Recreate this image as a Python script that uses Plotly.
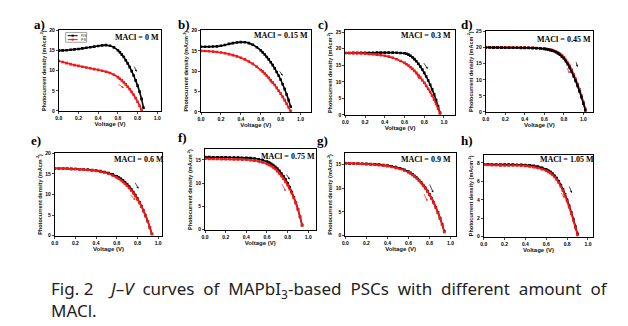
import plotly.graph_objects as go

W, H = 628, 326

# ---------------- data ----------------
V = [0.00, 0.04, 0.08, 0.12, 0.16, 0.20, 0.24, 0.28, 0.32, 0.36, 0.40, 0.44, 0.48, 0.52, 0.56, 0.60,
     0.62, 0.64, 0.66, 0.68, 0.70, 0.72, 0.74, 0.76, 0.78, 0.80, 0.82, 0.84, 0.86, 0.88, 0.90,
     0.92, 0.94, 0.96, 0.98, 1.00, 1.02, 1.04]

J_a_RS = [15.0, 15.05, 15.1, 15.2, 15.3, 15.4, 15.55, 15.7, 15.85, 16.0, 16.15, 16.3, 16.35, 16.2, 15.8, 15.1,
          14.6, 14.0, 13.4, 12.6, 11.8, 10.9, 9.9, 8.8, 7.6, 6.3, 4.8, 3.0, 0.8]
J_a_FS = [12.4, 12.15, 11.9, 11.65, 11.4, 11.2, 11.0, 10.8, 10.6, 10.4, 10.2, 10.0, 9.75, 9.45, 9.0, 8.4,
          8.0, 7.6, 7.1, 6.6, 6.0, 5.4, 4.7, 4.0, 3.2, 2.3, 1.3, 0.2]

J_b_RS = [16.0, 16.0, 16.0, 16.05, 16.1, 16.25, 16.45, 16.7, 16.9, 17.05, 17.15, 17.1, 16.9, 16.5, 15.9, 15.1,
          14.6, 14.1, 13.5, 12.9, 12.2, 11.5, 10.7, 9.8, 8.9, 7.9, 6.8, 5.6, 4.3, 2.9, 1.3]
J_b_FS = [15.0, 14.95, 14.9, 14.8, 14.7, 14.6, 14.4, 14.2, 13.95, 13.65, 13.3, 12.9, 12.4, 11.8, 11.1, 10.3,
          9.9, 9.4, 8.9, 8.4, 7.8, 7.2, 6.6, 5.9, 5.2, 4.5, 3.7, 2.9, 2.0, 1.1, 0.2]

J_c_RS = [18.7, 18.72, 18.74, 18.75, 18.76, 18.77, 18.78, 18.79, 18.8, 18.8, 18.8, 18.8, 18.8, 18.78, 18.72, 18.6,
          18.45, 18.2, 17.85, 17.4, 16.85, 16.2, 15.45, 14.6, 13.7, 12.7, 11.6, 10.4, 9.1, 7.7, 6.2, 4.5, 2.6, 0.6]
J_c_FS = [18.7, 18.68, 18.65, 18.6, 18.55, 18.5, 18.4, 18.3, 18.2, 18.05, 17.85, 17.6, 17.25, 16.8, 16.3, 15.7,
          15.3, 14.9, 14.4, 13.9, 13.3, 12.7, 12.0, 11.3, 10.5, 9.7, 8.8, 7.9, 6.9, 5.8, 4.6, 3.3, 1.9, 0.4]

J_d_RS = [20.0, 20.0, 19.99, 19.98, 19.97, 19.96, 19.95, 19.94, 19.93, 19.92, 19.9, 19.87, 19.83, 19.78, 19.7, 19.6,
          19.5, 19.38, 19.22, 19.05, 18.85, 18.55, 18.2, 17.75, 17.2, 16.6, 15.75, 14.8, 13.7, 12.45, 11.1,
          9.65, 8.1, 6.4, 4.6, 2.6, 0.5]
J_d_FS = [20.1, 20.1, 20.09, 20.08, 20.07, 20.06, 20.05, 20.04, 20.03, 20.02, 20.0, 19.97, 19.93, 19.88, 19.8, 19.7,
          19.6, 19.5, 19.35, 19.2, 19.0, 18.75, 18.45, 18.05, 17.6, 17.0, 16.2, 15.3, 14.3, 13.1, 11.8,
          10.3, 8.7, 7.0, 5.1, 3.1, 1.0]

J_e_RS = [16.3, 16.3, 16.28, 16.25, 16.2, 16.15, 16.1, 16.05, 16.0, 15.9, 15.8, 15.65, 15.45, 15.2, 14.85, 14.4,
          14.1, 13.8, 13.4, 12.95, 12.45, 11.9, 11.3, 10.6, 9.85, 9.0, 8.1, 7.1, 6.0, 4.8, 3.5, 2.0, 0.4]
J_e_FS = [16.35, 16.33, 16.3, 16.25, 16.2, 16.15, 16.08, 16.0, 15.92, 15.82, 15.7, 15.52, 15.3, 15.0, 14.6, 14.1,
          13.8, 13.45, 13.05, 12.6, 12.1, 11.55, 10.95, 10.3, 9.6, 8.8, 7.95, 7.0, 5.95, 4.8, 3.5, 2.0, 0.4]

J_f_RS = [15.6, 15.6, 15.58, 15.57, 15.56, 15.55, 15.54, 15.52, 15.5, 15.48, 15.45, 15.4, 15.3, 15.15, 14.95, 14.65,
          14.45, 14.2, 13.9, 13.55, 13.15, 12.65, 12.1, 11.5, 10.8, 10.0, 9.1, 8.1, 7.0, 5.8, 4.4, 2.8, 1.0]
J_f_FS = [15.25, 15.24, 15.22, 15.2, 15.18, 15.16, 15.14, 15.12, 15.1, 15.08, 15.05, 14.95, 14.85, 14.7, 14.45, 14.15,
          13.95, 13.7, 13.4, 13.05, 12.6, 12.1, 11.55, 10.95, 10.3, 9.55, 8.75, 7.85, 6.85, 5.7, 4.35, 2.8, 1.0]

J_g_RS = [15.25, 15.25, 15.22, 15.2, 15.18, 15.15, 15.1, 15.05, 15.0, 14.9, 14.8, 14.65, 14.45, 14.2, 13.9, 13.5,
          13.25, 12.95, 12.6, 12.2, 11.75, 11.25, 10.7, 10.1, 9.4, 8.7, 7.9, 7.0, 6.0, 4.9, 3.7, 2.4, 0.9]
J_g_FS = [15.3, 15.28, 15.25, 15.2, 15.15, 15.1, 15.03, 14.96, 14.88, 14.78, 14.66, 14.5, 14.3, 14.05, 13.75, 13.35,
          13.1, 12.8, 12.45, 12.05, 11.6, 11.1, 10.55, 9.95, 9.3, 8.6, 7.8, 6.9, 5.9, 4.8, 3.6, 2.3, 0.8]

J_h_RS = [7.85, 7.85, 7.84, 7.84, 7.83, 7.83, 7.82, 7.82, 7.81, 7.8, 7.78, 7.75, 7.7, 7.6, 7.48, 7.3,
          7.18, 7.03, 6.85, 6.62, 6.35, 6.0, 5.6, 5.15, 4.6, 4.0, 3.35, 2.65, 1.9, 1.1, 0.3]
J_h_FS = [7.8, 7.78, 7.76, 7.75, 7.74, 7.73, 7.73, 7.72, 7.72, 7.7, 7.68, 7.62, 7.55, 7.45, 7.32, 7.15,
          7.03, 6.88, 6.7, 6.48, 6.2, 5.85, 5.45, 5.0, 4.45, 3.85, 3.2, 2.5, 1.75, 0.95, 0.15]

panel_labels = ["a)", "b)", "c)", "d)", "e)", "f)", "g)", "h)"]
macl_texts = ["MACl = 0 M", "MACl = 0.15 M", "MACl = 0.3 M", "MACl = 0.45 M",
              "MACl = 0.6 M", "MACl = 0.75 M", "MACl = 0.9 M", "MACl = 1.05 M"]
RS_series = [J_a_RS, J_b_RS, J_c_RS, J_d_RS, J_e_RS, J_f_RS, J_g_RS, J_h_RS]
FS_series = [J_a_FS, J_b_FS, J_c_FS, J_d_FS, J_e_FS, J_f_FS, J_g_FS, J_h_FS]
x_ranges = [[0, 1.04], [0, 1.1], [0, 1.11], [0, 1.1], [0, 1.04], [0, 1.07], [0, 1.05], [0, 1.05]]
y_ranges = [[0, 20], [0, 20], [0, 25.5], [0, 25], [0, 20], [0, 17.3], [0, 17.4], [0, 8.85]]
y_dticks = [5, 5, 5, 5, 5, 5, 5, 2]
# arrows (tail V, tail J, head V, head J): black (RS) then red (FS)
arrows_RS = [(0.76, 11.4, 0.79, 9.75), (0.78, 10.3, 0.82, 8.9), (0.785, 16.1, 0.835, 13.9), (0.92, 16.0, 0.94, 14.0),
             (0.77, 13.2, 0.81, 11.4), (0.78, 12.2, 0.82, 10.8), (0.795, 11.1, 0.835, 9.1), (0.815, 5.6, 0.845, 4.75)]
arrows_FS = [(0.59, 6.9, 0.66, 5.7), (0.66, 8.7, 0.71, 7.1), (0.71, 12.9, 0.75, 10.8), (0.825, 14.0, 0.86, 12.0),
             (0.72, 10.2, 0.78, 8.6), (0.74, 10.1, 0.78, 8.3), (0.74, 9.1, 0.78, 7.3), (0.735, 4.9, 0.775, 4.2)]

# ---------------- layout geometry (pixels) ----------------
boxes = [(56, 159, 28, 110), (199, 309, 28, 111), (344, 454, 28, 114), (485, 593, 29, 111),
         (52, 160, 153, 237), (203, 314, 149, 231), (344, 455, 153, 237), (483, 593, 155, 238)]
label_pos = [(37, 22), (182, 22), (322, 22), (466, 22), (33, 140), (180, 137), (321, 140), (466, 140)]
text_pos = [(135, 35), (279, 33), (425, 33), (564, 37), (137, 159), (286, 156), (425, 159), (567, 159)]


def px(x):
    return x / W


def py(y):
    return 1 - y / H


RED = "#f01818"
fig = go.Figure()
layout = dict(width=W, height=H, margin=dict(l=0, r=0, t=0, b=0),
              paper_bgcolor="white", plot_bgcolor="white", showlegend=False)
annotations = []
shapes = []
tickfont = dict(family="Liberation Sans", size=5, color="black", weight="bold")

for i in range(8):
    n = i + 1
    xa = "x" if n == 1 else f"x{n}"
    ya = "y" if n == 1 else f"y{n}"
    xkey = "xaxis" if n == 1 else f"xaxis{n}"
    ykey = "yaxis" if n == 1 else f"yaxis{n}"
    x0, x1, y0, y1 = boxes[i]
    layout[xkey] = dict(domain=[px(x0), px(x1)], range=x_ranges[i], anchor=ya, dtick=0.2, tick0=0,
                        tickformat=".1f", showline=True, mirror=True, linecolor="black", linewidth=1,
                        ticks="outside", ticklen=2, tickwidth=0.8, showgrid=False, zeroline=False,
                        tickfont=tickfont,
                        title=dict(text="Voltage (V)", standoff=0,
                                   font=dict(family="Liberation Sans", size=6, color="#111", weight="bold")))
    layout[ykey] = dict(domain=[py(y1), py(y0)], range=y_ranges[i], anchor=xa, dtick=y_dticks[i], tick0=0,
                        showline=True, mirror=True, linecolor="black", linewidth=1,
                        ticks="outside", ticklen=2, tickwidth=0.8, showgrid=False, zeroline=False,
                        tickfont=tickfont,
                        title=dict(text="Photocurrent density (mAcm<sup>-2</sup>)", standoff=2,
                                   font=dict(family="Liberation Sans", size=5.5, color="#111", weight="bold")))
    rs = RS_series[i]
    fs = FS_series[i]
    traces = [(rs, "black", "RS"), (fs, RED, "FS")]
    if i == 3:
        traces = traces[::-1]
    for J, col, name in traces:
        fig.add_trace(go.Scatter(x=V[:len(J)], y=J, mode="lines+markers", name=name,
                                 line=dict(color=col, width=1.6, shape="spline"),
                                 marker=dict(symbol="square", size=2.6, color=col),
                                 xaxis=xa, yaxis=ya))
    for arr, col in ((arrows_RS[i], "black"), (arrows_FS[i], RED)):
        tv, tj, hv, hj = arr
        annotations.append(dict(x=hv, y=hj, ax=tv, ay=tj, xref=xa, yref=ya, axref=xa, ayref=ya,
                                text="", showarrow=True, arrowhead=2, arrowsize=0.6,
                                arrowwidth=0.7, arrowcolor=col))
    annotations.append(dict(x=px(label_pos[i][0]), y=py(label_pos[i][1]), xref="paper", yref="paper",
                            xanchor="center", yanchor="middle",
                            text="<b>" + panel_labels[i] + "</b>", showarrow=False,
                            font=dict(family="Liberation Serif", size=13, color="black")))
    annotations.append(dict(x=px(text_pos[i][0]), y=py(text_pos[i][1]), xref="paper", yref="paper",
                            xanchor="center", yanchor="middle",
                            text="<b>" + macl_texts[i] + "</b>", showarrow=False,
                            font=dict(family="Liberation Serif", size=8, color="black")))

# legend for panel a (drawn)
shapes.append(dict(type="rect", xref="paper", yref="paper", x0=px(63), x1=px(84), y0=py(40), y1=py(30),
                   line=dict(color="#666", width=0.6)))
for yy, col, nm in ((33.3, "black", "RS"), (37.3, RED, "FS")):
    shapes.append(dict(type="line", xref="paper", yref="paper", x0=px(65), x1=px(75), y0=py(yy), y1=py(yy),
                       line=dict(color=col, width=1)))
    shapes.append(dict(type="rect", xref="paper", yref="paper", x0=px(69), x1=px(71), y0=py(yy + 1), y1=py(yy - 1),
                       fillcolor=col, line=dict(width=0)))
    annotations.append(dict(x=px(76), y=py(yy), xref="paper", yref="paper", text=nm, showarrow=False,
                            xanchor="left", yanchor="middle",
                            font=dict(family="Liberation Sans", size=4, color="#333")))

# caption
annotations.append(dict(x=px(46), y=py(292), xref="paper", yref="paper", xanchor="left", yanchor="middle",
                        text="Fig. 2 &nbsp;&nbsp;&nbsp;<i>J</i>–<i>V</i>&nbsp; curves&nbsp; of&nbsp; MAPbI<sub>3</sub>-based&nbsp; PSCs&nbsp; with&nbsp; different&nbsp; amount&nbsp; of",
                        showarrow=False, font=dict(family="Noto Sans", size=17, color="#222")))
annotations.append(dict(x=px(46), y=py(313), xref="paper", yref="paper", xanchor="left", yanchor="middle",
                        text="MACl.", showarrow=False, font=dict(family="Noto Sans", size=17, color="#222")))

layout["annotations"] = annotations
layout["shapes"] = shapes
fig.update_layout(**layout)
fig.write_html("out.html")
